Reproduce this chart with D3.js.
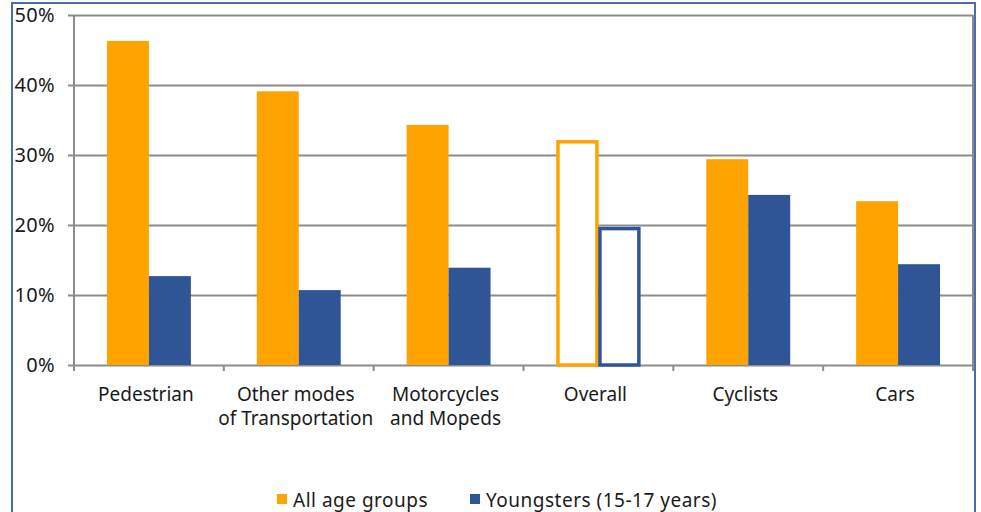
<!DOCTYPE html>
<html>
<head>
<meta charset="utf-8">
<script src="https://cdn.jsdelivr.net/npm/d3@7"></script>
<style>
  body { margin: 0; background: #fff; }
  text { font-family: "Noto Sans", sans-serif; fill: #1a1a1a; }
</style>
</head>
<body>
<div id="chart"></div>
<script>
// data
var categories = ["Pedestrian", "Other modes\nof Transportation", "Motorcycles\nand Mopeds", "Overall", "Cyclists", "Cars"];
var allAges = [46.3, 39.1, 34.3, 32.1, 29.4, 23.4];
var youngsters = [12.7, 10.7, 13.9, 19.7, 24.3, 14.4];
var yTicks = [0, 10, 20, 30, 40, 50];
var seriesNames = ["All age groups", "Youngsters (15-17 years)"];
var seriesColors = ["#FFA300", "#2F5597"];
var outlinedCategory = "Overall";

var W = 981, H = 512;
var margin = {top: 15, left: 74, right: 8, bottom: 147};
var fontSize = "19px";

var svg = d3.select("#chart").append("svg")
  .attr("width", W).attr("height", H);

// outer frame
svg.append("rect")
  .attr("x", 12).attr("y", 3)
  .attr("width", 963).attr("height", 540)
  .attr("fill", "none")
  .attr("stroke", "#4A6CB0")
  .attr("stroke-width", 2);

var x = d3.scaleBand()
  .domain(categories)
  .range([margin.left, W - margin.right])
  .paddingInner(0.44)
  .paddingOuter(0.22);

var y = d3.scaleLinear()
  .domain([0, 50])
  .range([H - margin.bottom, margin.top]);

// gridlines + y labels
var yAxis = svg.append("g")
  .attr("transform", "translate(" + margin.left + ",0)")
  .call(d3.axisLeft(y).tickValues(yTicks)
    .tickSize(-(W - margin.right - margin.left))
    .tickSizeOuter(0)
    .tickPadding(19)
    .tickFormat(function(d) { return d + "%"; }));
yAxis.select(".domain").remove();
yAxis.selectAll(".tick line")
  .attr("x1", -6)
  .attr("stroke", "#8c8c8c")
  .attr("stroke-width", 2);
yAxis.selectAll(".tick text")
  .style("font-size", "20px")
  .style("letter-spacing", "0.3px")
  .attr("fill", "#1a1a1a");

// right edge and left axis line
svg.append("line")
  .attr("x1", W - margin.right).attr("x2", W - margin.right)
  .attr("y1", y(50)).attr("y2", y(0))
  .attr("stroke", "#8c8c8c").attr("stroke-width", 2);
svg.append("line")
  .attr("x1", margin.left).attr("x2", margin.left)
  .attr("y1", y(50)).attr("y2", y(0) + 6)
  .attr("stroke", "#8c8c8c").attr("stroke-width", 2);

// ticks between categories on x axis
var step = x.step();
svg.append("g").selectAll("line")
  .data(d3.range(categories.length + 1))
  .enter().append("line")
  .attr("x1", function(i) { return margin.left + i * step; })
  .attr("x2", function(i) { return margin.left + i * step; })
  .attr("y1", y(0)).attr("y2", y(0) + 6)
  .attr("stroke", "#8c8c8c").attr("stroke-width", 2);

// bars
var bw = x.bandwidth() / 2;
var series = [allAges, youngsters];
series.forEach(function(vals, s) {
  svg.append("g").selectAll("rect")
    .data(categories)
    .enter().append("rect")
    .attr("x", function(c) { return x(c) + s * bw; })
    .attr("y", function(c, i) { return y(vals[i]); })
    .attr("width", bw)
    .attr("height", function(c, i) { return y(0) - y(vals[i]); })
    .each(function(c) {
      var r = d3.select(this);
      if (c === outlinedCategory) {
        r.attr("fill", "#fff")
          .attr("stroke", seriesColors[s])
          .attr("stroke-width", 3.5)
          .attr("x", x(c) + s * bw + 1.5)
          .attr("width", bw - 3);
        r.attr("y", +r.attr("y") + 1.5).attr("height", +r.attr("height") - 1.5);
      } else {
        r.attr("fill", seriesColors[s]);
      }
    });
});

// category labels
var labels = svg.append("g").selectAll("text")
  .data(categories)
  .enter().append("text")
  .attr("text-anchor", "middle")
  .style("font-size", fontSize)
  .attr("y", y(0) + 36);
labels.each(function(c) {
  var t = d3.select(this);
  c.split("\n").forEach(function(line, i) {
    t.append("tspan")
      .attr("x", x(c) + x.bandwidth() / 2 - 3)
      .attr("dy", i === 0 ? 0 : 24)
      .text(line);
  });
});

// legend
var legendX = [277, 470];
seriesNames.forEach(function(n, i) {
  svg.append("rect")
    .attr("x", legendX[i]).attr("y", 494)
    .attr("width", 10).attr("height", 10)
    .attr("fill", seriesColors[i]);
  svg.append("text")
    .attr("x", legendX[i] + 16).attr("y", 507)
    .style("font-size", fontSize)
    .style("letter-spacing", "0.5px")
    .text(n);
});
</script>
</body>
</html>
